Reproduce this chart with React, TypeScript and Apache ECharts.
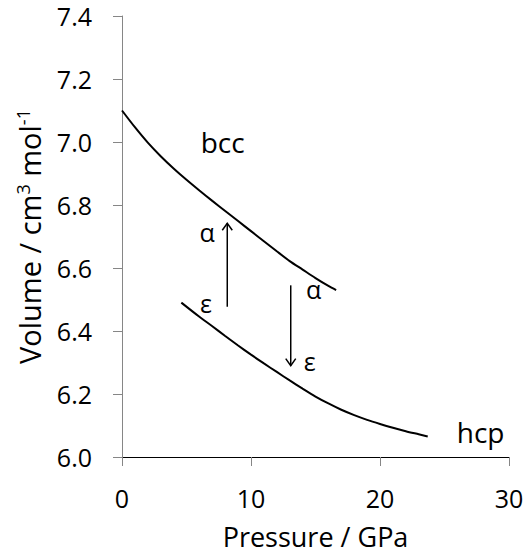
import React, { useEffect, useRef } from "react";
import * as echarts from "echarts";

// bcc (alpha) branch: [pressure GPa, volume cm3/mol]
const bccPressure = [0, 1, 2, 3, 4, 5, 6, 7, 8, 9, 10, 11, 12, 13, 14, 15, 16, 16.6];
const bccVolume = [7.1, 7.047, 6.998, 6.955, 6.916, 6.88, 6.846, 6.813, 6.781, 6.749, 6.717, 6.685, 6.653, 6.622, 6.595, 6.568, 6.543, 6.53];
// hcp (epsilon) branch
const hcpPressure = [4.6, 6, 7, 8, 9, 10, 11, 12, 13, 14, 15, 16, 17, 18, 19, 20, 21, 22, 23, 23.7];
const hcpVolume = [6.49, 6.445, 6.415, 6.384, 6.354, 6.325, 6.297, 6.27, 6.243, 6.217, 6.192, 6.17, 6.15, 6.133, 6.118, 6.105, 6.093, 6.082, 6.072, 6.065];
// transition arrows: [pressure, fromVolume, toVolume]
const arrows = [
  [8.16, 6.477, 6.742],
  [13.08, 6.545, 6.29],
];
// annotation texts at data coordinates
const annoText = ["bcc", "hcp", "α", "ε", "α", "ε"];
const annoX = [7.8, 27.8, 6.6, 6.5, 14.85, 14.55];
const annoY = [7.0, 6.08, 6.714, 6.49, 6.533, 6.306];
const annoSize = [28, 28, 25, 25, 25, 25];

const xTicks = { min: 0, max: 30, interval: 10 };
const yTicks = { min: 6.0, max: 7.4, interval: 0.2 };

const FONT = "'Open Sans', sans-serif";

export default function App() {
  const ref = useRef<HTMLDivElement>(null);
  useEffect(() => {
    if (!ref.current) return;
    const chart = echarts.init(ref.current, undefined, { renderer: "svg" });
    const bccData = bccPressure.map((p, i) => [p, bccVolume[i]]);
    const hcpData = hcpPressure.map((p, i) => [p, hcpVolume[i]]);
    const annoData = annoText.map((t, i) => [annoX[i], annoY[i], i]);
    chart.setOption({
      animation: false,
      backgroundColor: "#ffffff",
      grid: { left: 122, right: 17, top: 16, bottom: 101, containLabel: false, outerBoundsMode: "none" },
      xAxis: {
        type: "value",
        min: xTicks.min,
        max: xTicks.max,
        interval: xTicks.interval,
        name: "Pressure / GPa",
        nameLocation: "middle",
        nameGap: 65,
        nameTextStyle: { fontFamily: FONT, fontSize: 27, color: "#000", lineHeight: 28 },
        axisLine: { show: true, onZero: false, lineStyle: { color: "#000", width: 1 } },
        axisTick: { show: true, length: 9, lineStyle: { color: "#868686" } },
        axisLabel: { fontFamily: FONT, fontSize: 25, color: "#000", margin: 28 },
        splitLine: { show: false },
      },
      yAxis: {
        type: "value",
        min: yTicks.min,
        max: yTicks.max,
        interval: yTicks.interval,
        name: "Volume / cm{sup|3} mol{sup|-1}",
        nameLocation: "middle",
        nameGap: 78,
        nameRotate: 90,
        nameTextStyle: {
          fontFamily: FONT,
          fontSize: 29,
          color: "#000",
          rich: { sup: { fontFamily: FONT, fontSize: 18, color: "#000", verticalAlign: "top", padding: [0, 0, 12, 0] } },
        },
        axisLine: { show: true, onZero: false, lineStyle: { color: "#868686", width: 1 } },
        axisTick: { show: true, length: 9, lineStyle: { color: "#868686" } },
        axisLabel: {
          fontFamily: FONT,
          fontSize: 25,
          color: "#000",
          margin: 30,
          padding: [6, 0, 0, 0],
          formatter: (v: number) => v.toFixed(1),
        },
        splitLine: { show: false },
      },
      series: [
        {
          type: "line",
          data: bccData,
          smooth: 0.3,
          symbol: "none",
          lineStyle: { color: "#000", width: 2 },
        },
        {
          type: "line",
          data: hcpData,
          smooth: 0.3,
          symbol: "none",
          lineStyle: { color: "#000", width: 2 },
        },
        {
          type: "custom",
          data: arrows,
          renderItem: (params: any, api: any) => {
            const x = api.value(0);
            const p0 = api.coord([x, api.value(1)]);
            const p1 = api.coord([x, api.value(2)]);
            const dir = p1[1] < p0[1] ? 1 : -1;
            const hs = 7;
            return {
              type: "group",
              children: [
                {
                  type: "line",
                  shape: { x1: p0[0], y1: p0[1], x2: p1[0], y2: p1[1] },
                  style: { stroke: "#000", lineWidth: 1.5 },
                },
                {
                  type: "polyline",
                  shape: {
                    points: [
                      [p1[0] - 5, p1[1] + dir * hs],
                      [p1[0], p1[1]],
                      [p1[0] + 5, p1[1] + dir * hs],
                    ],
                  },
                  style: { stroke: "#000", lineWidth: 1.5, fill: "none" },
                },
              ],
            };
          },
        },
        {
          type: "custom",
          data: annoData,
          renderItem: (params: any, api: any) => {
            const i = api.value(2);
            const p = api.coord([api.value(0), api.value(1)]);
            return {
              type: "text",
              x: p[0],
              y: p[1],
              style: {
                text: annoText[i],
                fontFamily: FONT,
                fontSize: annoSize[i],
                fill: "#000",
                align: "center",
                verticalAlign: "middle",
              },
            };
          },
        },
      ],
    });
    return () => chart.dispose();
  }, []);
  return <div ref={ref} style={{ position: "fixed", left: 0, top: 0, width: 526, height: 558 }} />;
}
